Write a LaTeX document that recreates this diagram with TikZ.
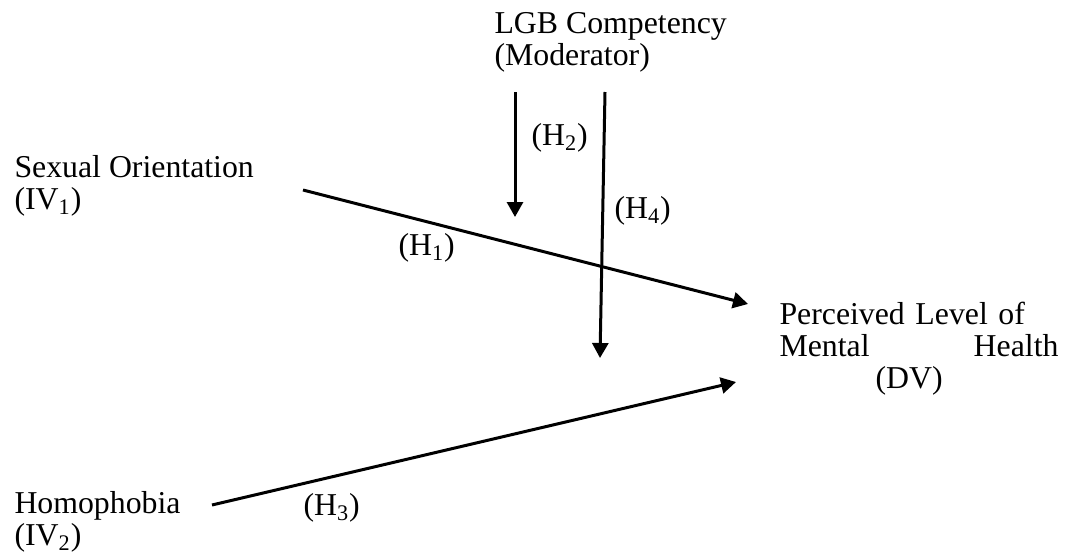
\documentclass[tikz,border=0pt]{standalone}
\usepackage{fontspec}
\setmainfont{Liberation Serif}
\usetikzlibrary{positioning, arrows.meta}

\begin{document}
\begin{tikzpicture}[x = 0.5pt, y = -0.5pt, > = {Triangle[length=7.5pt, width=8pt]}, line width = 1.5pt,
    txt/.style = {anchor=base west, inner sep=0pt, align=left, font=\fontsize{15.9}{16}\selectfont}]
    \useasboundingbox (0,0) rectangle (1072,558);

    % base anchor sits on the last line (first line when a text width is set)
    \node[txt] (mod) at (493,65) {LGB Competency\\(Moderator)};
    \node[txt] (iv1) at (13,209) {Sexual Orientation\\(IV\textsubscript{1})};
    \node[txt] (iv2) at (13,545) {Homophobia\\(IV\textsubscript{2})};
    \node[txt, text width=139.5pt] (dv) at (778,324) {Perceived Level of\\Mental\hfill Health\\\hspace*{48pt}(DV)};

    % arrow ends
    \coordinate (h1s) at (303,190); \coordinate (h1e) at (748,304);
    \coordinate (h2s) at (515,92);  \coordinate (h2e) at (515,217);
    \coordinate (h3s) at (212,505); \coordinate (h3e) at (736,382);
    \coordinate (h4s) at (605,92);  \coordinate (h4e) at (600,358);

    \draw[->] (h1s) -- (h1e);
    \draw[->] (h2s) -- (h2e);
    \draw[->] (h3s) -- (h3e);
    \draw[->] (h4s) -- (h4e);

    \node[txt] (h1) at (397,255) {(H\textsubscript{1})};
    \node[txt] (h2) at (530,145) {(H\textsubscript{2})};
    \node[txt] (h3) at (302,515) {(H\textsubscript{3})};
    \node[txt] (h4) at (613,218) {(H\textsubscript{4})};
  \end{tikzpicture}
\end{document}
